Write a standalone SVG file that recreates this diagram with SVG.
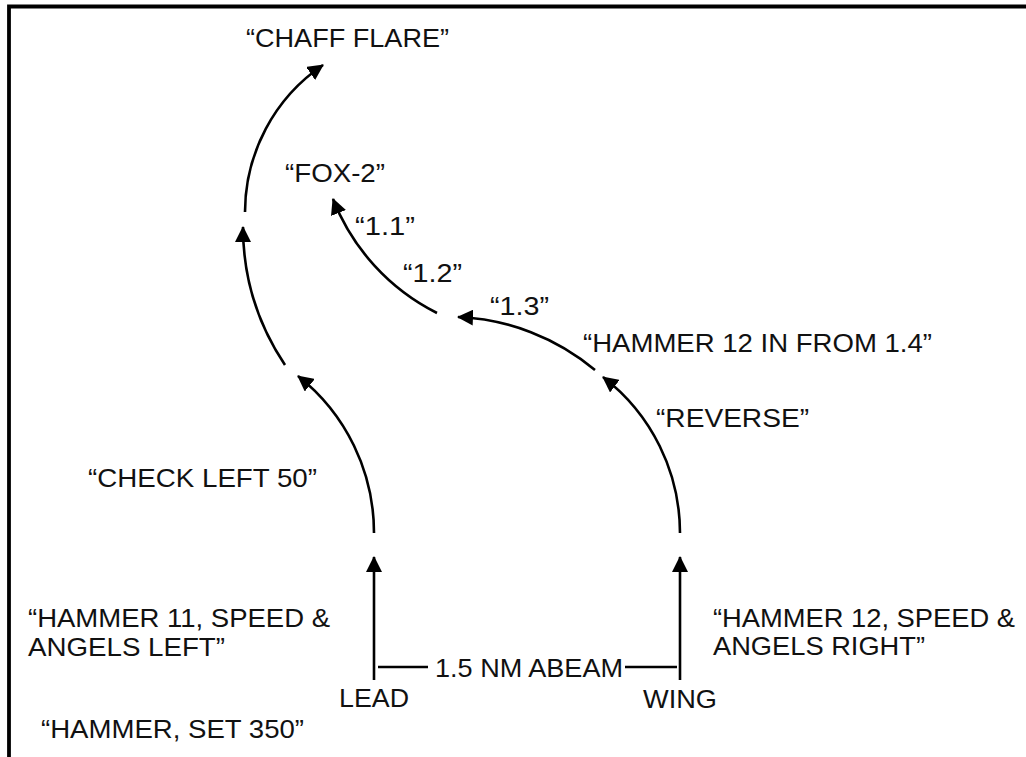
<svg xmlns="http://www.w3.org/2000/svg" width="1026" height="757" viewBox="0 0 1026 757">
<style>
text{font-family:"Liberation Sans",Arial,sans-serif;font-size:26px;fill:#111}
.ln{fill:none;stroke:#000;stroke-width:2.6}
.fr{fill:none;stroke:#000;stroke-width:3.8}
</style>
<defs>
<marker id="ah" viewBox="0 0 16 16" refX="15" refY="8" markerWidth="16" markerHeight="16" markerUnits="userSpaceOnUse" orient="auto">
<path d="M0,0 L16,8 L0,16 z" fill="#000"/>
</marker>
</defs>
<rect width="1026" height="757" fill="#fff"/>
<g id="frame">
<path class="fr" d="M9,757 L9,6.5 L1026,6.5"/>
</g>
<g id="connectors">
<path class="ln" d="M374,680 L374,557" marker-end="url(#ah)"/>
<path class="ln" d="M680,680 L680,557" marker-end="url(#ah)"/>
<path class="ln" d="M378,667 L428,667"/>
<path class="ln" d="M625,667 L677,667"/>
<path class="ln" d="M374,533 A200,200 0 0 0 298,376" marker-end="url(#ah)"/>
<path class="ln" d="M285,365 A248,248 0 0 1 243,227" marker-end="url(#ah)"/>
<path class="ln" d="M245,212 A178,178 0 0 1 323,65" marker-end="url(#ah)"/>
<path class="ln" d="M680,533 A197,197 0 0 0 603,377" marker-end="url(#ah)"/>
<path class="ln" d="M595,370 A228,228 0 0 0 458,317" marker-end="url(#ah)"/>
<path class="ln" d="M437,313 A215.6,215.6 0 0 1 333,199" marker-end="url(#ah)"/>
</g>
<g id="lead"><text x="339" y="707" textLength="70" lengthAdjust="spacingAndGlyphs">LEAD</text></g>
<g id="wing"><text x="643" y="708" textLength="74" lengthAdjust="spacingAndGlyphs">WING</text></g>
<g id="abeam"><text x="435" y="677" textLength="188" lengthAdjust="spacingAndGlyphs">1.5 NM ABEAM</text></g>
<g id="chaff"><text x="246" y="47" textLength="203" lengthAdjust="spacingAndGlyphs">“CHAFF FLARE”</text></g>
<g id="fox2"><text x="285" y="182" textLength="100" lengthAdjust="spacingAndGlyphs">“FOX-2”</text></g>
<g id="c11"><text x="355" y="235" textLength="60" lengthAdjust="spacingAndGlyphs">“1.1”</text></g>
<g id="c12"><text x="403" y="282" textLength="59" lengthAdjust="spacingAndGlyphs">“1.2”</text></g>
<g id="c13"><text x="490" y="315" textLength="59" lengthAdjust="spacingAndGlyphs">“1.3”</text></g>
<g id="c14"><text x="583" y="352" textLength="349" lengthAdjust="spacingAndGlyphs">“HAMMER 12 IN FROM 1.4”</text></g>
<g id="reverse"><text x="656" y="427" textLength="153" lengthAdjust="spacingAndGlyphs">“REVERSE”</text></g>
<g id="check"><text x="88" y="487" textLength="229" lengthAdjust="spacingAndGlyphs">“CHECK LEFT 50”</text></g>
<g id="h11"><text x="28" y="627" textLength="302" lengthAdjust="spacingAndGlyphs">“HAMMER 11, SPEED &amp;</text><text x="28" y="656" textLength="197" lengthAdjust="spacingAndGlyphs">ANGELS LEFT”</text></g>
<g id="h12"><text x="713" y="627" textLength="302" lengthAdjust="spacingAndGlyphs">“HAMMER 12, SPEED &amp;</text><text x="713" y="655" textLength="212" lengthAdjust="spacingAndGlyphs">ANGELS RIGHT”</text></g>
<g id="set"><text x="41" y="738" textLength="263" lengthAdjust="spacingAndGlyphs">“HAMMER, SET 350”</text></g>
</svg>
